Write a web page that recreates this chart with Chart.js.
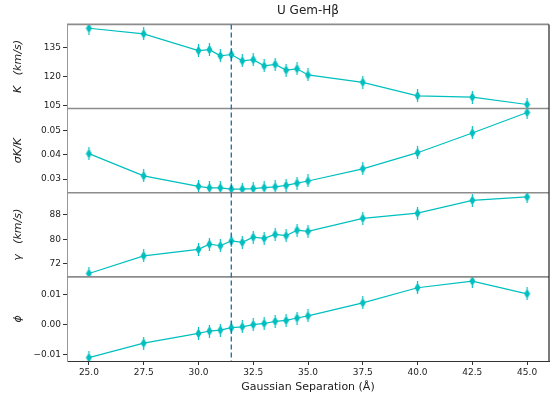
<!DOCTYPE html>
<html>
<head>
<meta charset="utf-8">
<script src="https://cdn.jsdelivr.net/npm/chart.js@4.4.1/dist/chart.umd.min.js"></script>
<style>
  html, body { margin: 0; padding: 0; background: #fff; }
  #wrap { width: 559px; height: 399px; }
</style>
</head>
<body>
<div id="wrap"><canvas id="chart" width="559" height="399"></canvas></div>
<script>
// gaussian separation (Angstrom)
const sep = [25, 27.5, 30, 30.5, 31, 31.5, 32, 32.5, 33, 33.5, 34, 34.5, 35, 37.5, 40, 42.5, 45]
// K (km/s)
const kVals = [144.9, 142.0, 133.3, 133.8, 130.6, 131.3, 128.0, 128.6, 125.4, 126.2, 123.2, 123.9, 120.7, 116.9, 109.9, 109.2, 105.4]
// sigma K / K
const sigVals = [0.0404, 0.0313, 0.0270, 0.0264, 0.0264, 0.0259, 0.0259, 0.0261, 0.0265, 0.0268, 0.0274, 0.0283, 0.0292, 0.0342, 0.0408, 0.0489, 0.0573]
// gamma (km/s)
const gamVals = [68.8, 74.6, 76.7, 78.4, 77.9, 79.5, 79.0, 80.7, 80.3, 81.6, 81.2, 83.0, 82.6, 86.9, 88.6, 92.8, 93.9]
// phi
const phiVals = [-0.0109, -0.0061, -0.0029, -0.0021, -0.0018, -0.0010, -0.0007, 0.0000, 0.0004, 0.0011, 0.0014, 0.0022, 0.0029, 0.0072, 0.0122, 0.0144, 0.0102]

const kTicks = [105, 120, 135]
const sigTicks = [0.03, 0.04, 0.05]
const gamTicks = [72, 80, 88]
const phiTicks = [-0.01, 0.00, 0.01]
const xTicks = [25, 27.5, 30, 32.5, 35, 37.5, 40, 42.5, 45]
const dashX = 31.5

const lineColor = '#00bfbf'
const font = "'DejaVu Sans', sans-serif"

// thin diamond marker with a short error bar
const marker = document.createElement('canvas')
marker.width = 7
marker.height = 13
const mctx = marker.getContext('2d')
mctx.strokeStyle = lineColor
mctx.lineWidth = 1.2
mctx.beginPath()
mctx.moveTo(3.5, 0)
mctx.lineTo(3.5, 13)
mctx.stroke()
mctx.fillStyle = lineColor
mctx.beginPath()
mctx.moveTo(3.5, 1.5)
mctx.lineTo(6.5, 6.5)
mctx.lineTo(3.5, 11.5)
mctx.lineTo(0.5, 6.5)
mctx.closePath()
mctx.fill()

const toPts = (vals) => sep.map((x, i) => ({ x: x, y: vals[i] }))

const makeSet = (vals, axis) => ({
  data: toPts(vals),
  yAxisID: axis,
  borderColor: lineColor,
  backgroundColor: lineColor,
  borderWidth: 1.2,
  pointStyle: marker,
  pointRadius: 4,
  tension: 0
})

const fixTicks = (list) => (scale) => {
  scale.ticks = list.map((v) => ({ value: v }))
}

const yAxis = (min, max, list, title, fmt) => ({
  type: 'linear',
  position: 'left',
  stack: 'panels',
  stackWeight: 1,
  offset: false,
  min: min,
  max: max,
  afterBuildTicks: fixTicks(list),
  afterFit: (scale) => { scale.width = 67 },
  grid: { drawOnChartArea: false, tickLength: 4, color: '#333' },
  border: { color: '#999', width: 1 },
  ticks: {
    color: '#222',
    font: { family: font, size: 9 },
    padding: 2,
    callback: fmt
  },
  title: {
    display: true,
    text: title,
    color: '#222',
    font: { family: font, size: 11, style: 'italic' },
    padding: { top: 12, bottom: 0 }
  }
})

// dashed vertical marker and panel separators
const panelLines = {
  id: 'panelLines',
  afterDatasetsDraw(chart) {
    const c = chart.ctx
    const area = chart.chartArea
    const xs = chart.scales.x
    c.save()
    const ids = ['yK', 'ySig', 'yGam']
    c.strokeStyle = '#8c8c8c'
    c.lineWidth = 1.6
    ids.forEach((id) => {
      const y = chart.scales[id].bottom
      c.beginPath()
      c.moveTo(area.left, y)
      c.lineTo(area.right, y)
      c.stroke()
    })
    c.beginPath()
    c.moveTo(area.left, area.top)
    c.lineTo(area.right, area.top)
    c.stroke()
    c.strokeStyle = '#222'
    c.lineWidth = 1.2
    c.beginPath()
    c.moveTo(area.right, area.top)
    c.lineTo(area.right, area.bottom)
    c.stroke()
    const px = xs.getPixelForValue(dashX)
    c.strokeStyle = '#1f77b4'
    c.lineWidth = 1.4
    c.setLineDash([5, 3])
    c.beginPath()
    c.moveTo(px, area.top)
    c.lineTo(px, area.bottom)
    c.stroke()
    c.restore()
  }
}

const chart = new Chart(document.getElementById('chart'), {
  type: 'line',
  data: {
    datasets: [
      makeSet(kVals, 'yK'),
      makeSet(sigVals, 'ySig'),
      makeSet(gamVals, 'yGam'),
      makeSet(phiVals, 'yPhi')
    ]
  },
  options: {
    responsive: false,
    animation: false,
    layout: { padding: { left: 0, right: 10, top: 0, bottom: 0 } },
    plugins: {
      legend: { display: false },
      tooltip: { enabled: false },
      title: {
        display: true,
        fullSize: false,
        text: 'U Gem-Hβ',
        color: '#222',
        font: { family: font, size: 12, weight: 'normal' },
        padding: { top: 4, bottom: 6 }
      }
    },
    scales: {
      x: {
        type: 'linear',
        min: 24,
        max: 46,
        afterBuildTicks: fixTicks(xTicks),
        afterFit: (scale) => { scale.height = 38 },
        grid: { drawOnChartArea: false, tickLength: 4, color: '#333' },
        border: { color: '#333', width: 1 },
        ticks: {
          color: '#222',
          font: { family: font, size: 9 },
          padding: 2,
          maxRotation: 0,
          callback: (v) => v.toFixed(1)
        },
        title: {
          display: true,
          text: 'Gaussian Separation (Å)',
          color: '#222',
          font: { family: font, size: 11 },
          padding: { top: 2, bottom: 5 }
        }
      },
      yPhi: yAxis(-0.0120, 0.0158, phiTicks, 'ϕ',
        (v) => (v < 0 ? '\u2212' : '') + Math.abs(v).toFixed(2)),
      yGam: yAxis(67.7, 95.3, gamTicks, 'γ   (km/s)', (v) => String(v)),
      ySig: yAxis(0.0244, 0.0589, sigTicks, 'σK/K', (v) => v.toFixed(2)),
      yK: yAxis(103.3, 146.9, kTicks, 'K   (km/s)', (v) => String(v))
    }
  },
  plugins: [panelLines]
})
</script>
</body>
</html>
